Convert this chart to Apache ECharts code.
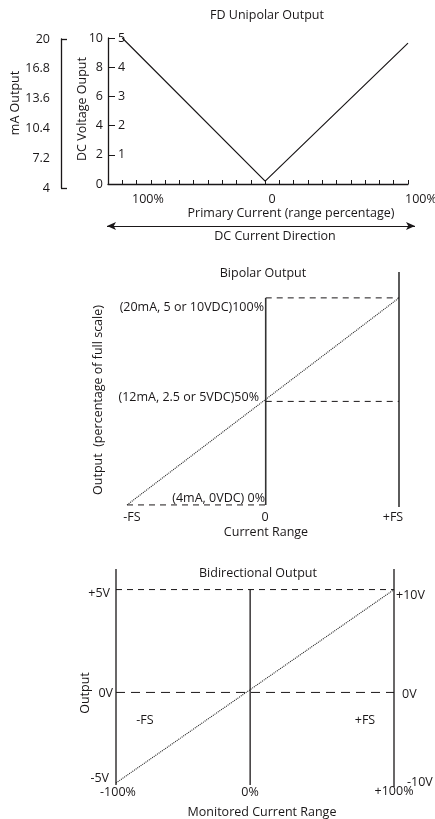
<!DOCTYPE html>
<html><head><meta charset="utf-8">
<script src="https://cdn.jsdelivr.net/npm/echarts@6/dist/echarts.min.js"></script>
<style>html,body{margin:0;padding:0;background:#fff}#c{width:435px;height:819px}</style>
</head><body><div id="c"></div>
<script>
// ---------- Panel 1: FD Unipolar Output ----------
const uniX = [-100, 0, 100];          // primary current, % of range (left = reverse direction)
const uniV = [10, 0.2, 9.65];         // DC voltage output on the 0-10 V scale
const volt10Ticks = ['0', '2', '4', '6', '8', '10'];
const volt5Ticks = ['', '1', '2', '3', '4', '5'];
const mATicks = ['4', '7.2', '10.4', '13.6', '16.8', '20'];
const uniXLabels = ['100%', '0', '100%'];

// ---------- Panel 2: Bipolar Output ----------
const bipLineX = [-1, 1];             // -FS .. +FS
const bipLineY = [0, 100];            // % of full scale
const bipZeroX = 0.02;                // position of the "0" current line
const bipLevels = [0, 50, 100];
const bipLevelLabels = ['(4mA, 0VDC) 0%', '(12mA, 2.5 or 5VDC)50%', '(20mA, 5 or 10VDC)100%'];
const bipXLabels = ['-FS', '0', '+FS'];

// ---------- Panel 3: Bidirectional Output ----------
const bidLineX = [-100, 100];         // monitored current, %
const bidLineY = [-4.4, 5];           // output, V (5 V scale)
const bidZeroX = -3.5;
const bidLeftLabels = ['+5V', '0V', '-5V'];
const bidRightLabels = ['+10V', '0V', '-10V'];
const bidXLabels = ['-100%', '0%', '+100%'];

const INK = '#1a1718';
const FONT = '"Open Sans", sans-serif';
const FS = 12.5;

const chart = echarts.init(document.getElementById('c'), null, {renderer: 'canvas'});

function seg(p, q) { return [p, q]; }
function lineSeries(data, xi, yi, style) {
  return {type: 'line', data: data, xAxisIndex: xi, yAxisIndex: yi, showSymbol: false, symbol: 'none',
    silent: true, clip: false, animation: false, lineStyle: Object.assign({color: INK, width: 1.2}, style)};
}
function txt(text, x, y, align, extra) {
  return Object.assign({type: 'text', x: x, y: y, silent: true,
    style: {text: text, align: align || 'center', verticalAlign: 'middle', font: FS + 'px ' + FONT, fill: INK}}, extra || {});
}

const hidden = {show: false};
const option = {
  backgroundColor: '#fff',
  animation: false,
  textStyle: {fontFamily: FONT},
  grid: [
    {left: 108, top: 38, width: 300, height: 146, outerBoundsMode: 'none'},
    {left: 61, top: 39, width: 1, height: 149, outerBoundsMode: 'none'},
    {left: 127, top: 272, width: 272, height: 235, outerBoundsMode: 'none'},
    {left: 116, top: 569, width: 278, height: 216, outerBoundsMode: 'none'}
  ],
  xAxis: [
    {gridIndex: 0, type: 'value', min: -110, max: 100, interval: 10,
      axisLine: {onZero: false, lineStyle: {color: INK, width: 1.3}},
      axisTick: {inside: true, length: 4, lineStyle: {color: INK}},
      splitLine: hidden, axisLabel: hidden},
    {gridIndex: 1, type: 'value', show: false, min: 0, max: 1},
    {gridIndex: 2, type: 'value', show: false, min: -1, max: 1},
    {gridIndex: 3, type: 'value', show: false, min: -100, max: 100}
  ],
  yAxis: [
    {gridIndex: 0, type: 'value', min: 0, max: 10, interval: 2,
      axisLine: {show: true, onZero: false, lineStyle: {color: INK, width: 1.3}},
      axisTick: {show: true, inside: true, length: 7, lineStyle: {color: INK}},
      splitLine: hidden,
      axisLabel: {margin: 5, fontSize: FS, color: INK, fontFamily: FONT, formatter: v => volt10Ticks[Math.round(v / 2)]}},
    {gridIndex: 0, type: 'value', min: 0, max: 5, interval: 1, position: 'left',
      axisLine: {show: false, onZero: false}, axisTick: hidden, splitLine: hidden,
      axisLabel: {inside: true, margin: 10, fontSize: FS, color: INK, fontFamily: FONT, formatter: v => volt5Ticks[Math.round(v)]}},
    {gridIndex: 1, type: 'value', min: 0, max: 10, interval: 2,
      axisLine: {show: true, onZero: false, lineStyle: {color: INK, width: 1.3}},
      axisTick: {show: true, inside: true, length: 6, customValues: [0, 10], lineStyle: {color: INK, width: 1.3}},
      splitLine: hidden,
      axisLabel: {margin: 11, fontSize: FS, color: INK, fontFamily: FONT, formatter: v => mATicks[Math.round(v / 2)]}},
    {gridIndex: 2, type: 'value', show: false, min: -1, max: 112.5},
    {gridIndex: 3, type: 'value', show: false, min: -4.5, max: 6}
  ],
  series: [
    // Panel 1 V-shaped characteristic
    Object.assign(lineSeries(uniX.map((x, i) => [x, uniV[i]]), 0, 0, {width: 1.2}), {
      markLine: {silent: true, symbol: ['arrow', 'arrow'], symbolSize: [6, 9], animation: false,
        lineStyle: {color: INK, width: 1, type: 'solid'}, label: {show: false}, emphasis: {disabled: true},
        data: [[{x: 107, y: 226}, {x: 415, y: 226}]]}
    }),
    // Panel 2
    lineSeries(seg([bipZeroX, bipLevels[0]], [bipZeroX, bipLevels[2]]), 2, 3, {width: 1.6, color: '#333'}),
    lineSeries(seg([bipLineX[1], -1], [bipLineX[1], 112.5]), 2, 3, {width: 1.6, color: '#333'}),
    lineSeries(seg([bipLineX[0], bipLevels[0]], [bipZeroX, bipLevels[0]]), 2, 3, {width: 1, type: [6, 5]}),
    lineSeries(seg([bipZeroX, bipLevels[1]], [bipLineX[1], bipLevels[1]]), 2, 3, {width: 1, type: [6, 5]}),
    lineSeries(seg([bipZeroX, bipLevels[2]], [bipLineX[1], bipLevels[2]]), 2, 3, {width: 1, type: [6, 5]}),
    lineSeries(bipLineX.map((x, i) => [x, bipLineY[i]]), 2, 3, {width: 1.1, type: [1, 1], color: '#222'}),
    // Panel 3
    lineSeries(seg([bidLineX[0], -4.5], [bidLineX[0], 6]), 3, 4, {width: 1.3}),
    lineSeries(seg([bidZeroX, -4.5], [bidZeroX, 5]), 3, 4, {width: 1.3}),
    lineSeries(seg([bidLineX[1], -4.6], [bidLineX[1], 6]), 3, 4, {width: 1.3}),
    lineSeries(seg([bidLineX[0], 5], [bidLineX[1], 5]), 3, 4, {width: 1, type: [6, 5]}),
    lineSeries(seg([bidLineX[0], 0], [bidLineX[1], 0]), 3, 4, {width: 1, type: [9, 6]}),
    lineSeries(bidLineX.map((x, i) => [x, bidLineY[i]]), 3, 4, {width: 1.1, type: [1, 1], color: '#222'})
  ],
  graphic: [
    // Panel 1 text
    txt('FD Unipolar Output', 267, 15),
    txt('mA Output', 15, 103, 'center', {rotation: Math.PI / 2}),
    txt('DC Voltage Ouput', 82, 109, 'center', {rotation: Math.PI / 2}),
    txt(uniXLabels[0], 132, 199, 'left'),
    txt(uniXLabels[1], 272, 199),
    txt(uniXLabels[2], 405, 199, 'left'),
    txt('Primary Current (range percentage)', 291, 213),
    txt('DC Current Direction', 275, 236),
    // Panel 2 text
    txt('Bipolar Output', 263, 273),
    txt('Output  (percentage of full scale)', 98, 400, 'center', {rotation: Math.PI / 2}),
    txt(bipLevelLabels[2], 264, 307, 'right'),
    txt(bipLevelLabels[1], 259, 397, 'right'),
    txt(bipLevelLabels[0], 265, 498, 'right'),
    txt(bipXLabels[0], 132, 517),
    txt(bipXLabels[1], 265, 517),
    txt(bipXLabels[2], 393, 517),
    txt('Current Range', 266, 532),
    // Panel 3 text
    txt('Bidirectional Output', 258, 573),
    txt('Output', 85, 693, 'center', {rotation: Math.PI / 2}),
    txt(bidLeftLabels[0], 110, 593, 'right'),
    txt(bidLeftLabels[1], 113, 693, 'right'),
    txt(bidLeftLabels[2], 109, 778, 'right'),
    txt(bidRightLabels[0], 396, 595, 'left'),
    txt(bidRightLabels[1], 402, 694, 'left'),
    txt(bidRightLabels[2], 407, 782, 'left'),
    txt(bidXLabels[0], 118, 792),
    txt(bidXLabels[1], 250, 792),
    txt(bidXLabels[2], 394, 791),
    txt('-FS', 145, 720),
    txt('+FS', 365, 720),
    txt('Monitored Current Range', 262, 812)
  ]
};
chart.setOption(option);
</script>
</body></html>
